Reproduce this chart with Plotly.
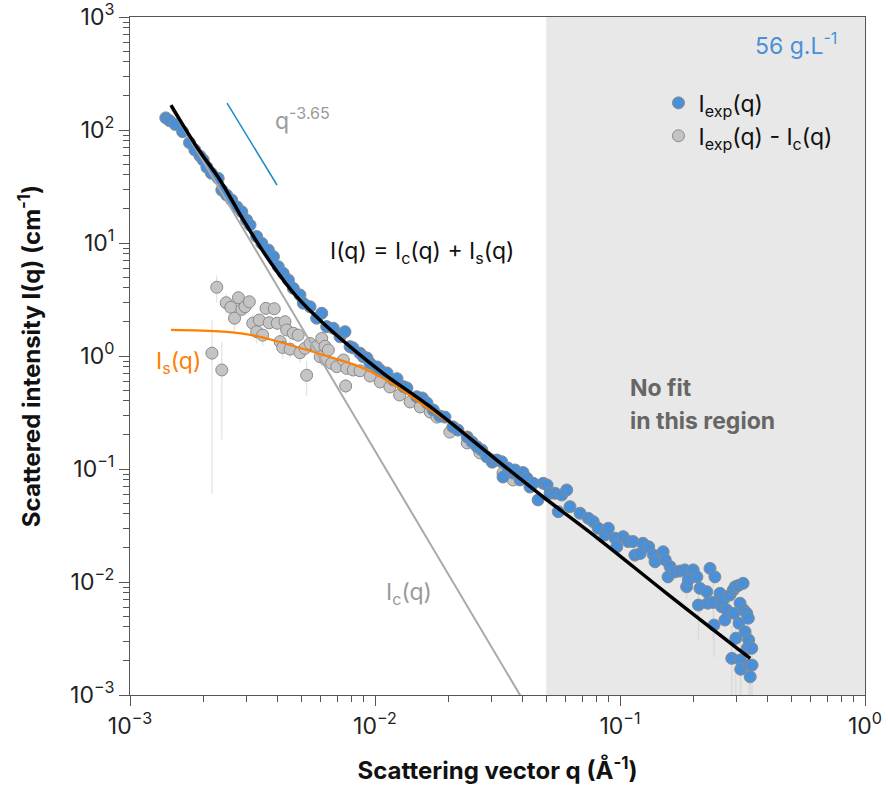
import plotly.graph_objects as go

# ---------------- data ----------------
blue_q = [0.00140, 0.00145, 0.00153, 0.00164, 0.00175, 0.00184, 0.00193, 0.00199, 0.00206, 0.00215,
          0.00229, 0.00237, 0.00248, 0.00260, 0.00273, 0.00286, 0.00299, 0.00309, 0.00329, 0.00345,
          0.00367, 0.00385, 0.00403, 0.00422, 0.00443, 0.00464, 0.00494, 0.00510, 0.00543, 0.00578,
          0.00606, 0.00635, 0.00676, 0.00720, 0.00754, 0.00791, 0.00813, 0.00869, 0.00896, 0.00927,
          0.00955, 0.0102, 0.0105, 0.0112, 0.0119, 0.0123, 0.0131, 0.0135, 0.0148, 0.0156,
          0.0163, 0.0173, 0.0184, 0.0193, 0.0208, 0.0218, 0.0238, 0.0249, 0.0261, 0.0273,
          0.0286, 0.0301, 0.0315, 0.0329, 0.0333, 0.0349, 0.0366, 0.0373, 0.0391, 0.0402,
          0.0417, 0.0429, 0.0443, 0.0463, 0.0486, 0.0504, 0.0518, 0.0543, 0.0560, 0.0578,
          0.0606, 0.0625, 0.0687, 0.0743, 0.0778, 0.0815, 0.0869, 0.0896, 0.0955, 0.0970,
          0.103, 0.108, 0.113, 0.115, 0.121, 0.124, 0.131, 0.137, 0.139, 0.150,
          0.153, 0.157, 0.160, 0.168, 0.176, 0.184, 0.187, 0.190, 0.199, 0.206,
          0.209, 0.212, 0.226, 0.228, 0.233, 0.240, 0.242, 0.244, 0.256, 0.260,
          0.264, 0.268, 0.273, 0.281, 0.286, 0.290, 0.292, 0.295, 0.297, 0.304,
          0.306, 0.309, 0.310, 0.311, 0.318, 0.320, 0.324, 0.329, 0.331, 0.334,
          0.335, 0.336, 0.340, 0.345, 0.346]
blue_I = [128, 121, 112, 96.6, 77.2, 66.5, 58.9, 54.3, 46.8, 41.4,
          37.4, 29.4, 26.6, 24.0, 20.9, 18.9, 16.0, 14.4, 11.4, 9.93,
          8.67, 7.57, 6.17, 5.40, 4.71, 3.97, 3.47, 2.93, 2.73, 2.16,
          2.39, 1.82, 1.76, 1.48, 1.64, 1.21, 1.18, 1.06, 0.986, 0.96,
          0.861, 0.80, 0.75, 0.708, 0.614, 0.63, 0.535, 0.521, 0.436, 0.425,
          0.384, 0.333, 0.294, 0.288, 0.236, 0.221, 0.192, 0.173, 0.157, 0.147,
          0.128, 0.115, 0.120, 0.116, 0.0849, 0.102, 0.0923, 0.098, 0.080, 0.093,
          0.083, 0.0693, 0.0747, 0.0532, 0.0747, 0.0722, 0.061, 0.061, 0.0419, 0.0589,
          0.0652, 0.0464, 0.0406, 0.0366, 0.0342, 0.0299, 0.0261, 0.0299, 0.0244, 0.0205,
          0.0252, 0.0228, 0.0228, 0.0173, 0.0179, 0.0220, 0.0205, 0.0173, 0.0151, 0.0185,
          0.0157, 0.0111, 0.0137, 0.0123, 0.0125, 0.0128, 0.00908, 0.0104, 0.0128, 0.0111,
          0.00625, 0.00879, 0.0082, 0.00649, 0.0132, 0.0066, 0.00416, 0.0111, 0.00794, 0.00604,
          0.00693, 0.00461, 0.00565, 0.00767, 0.00211, 0.0085, 0.00528, 0.00908, 0.00318, 0.0093,
          0.00431, 0.00649, 0.00204, 0.00169, 0.00973, 0.00565, 0.00363, 0.00528, 0.00259, 0.00478,
          0.00307, 0.00184, 0.00145, 0.00259, 0.00184]

# points of I_exp(q) whose error bars are visible
blue_err_q = [0.187, 0.209, 0.240, 0.242, 0.286, 0.297, 0.310, 0.311, 0.336, 0.340, 0.346]
blue_err_I = [0.00908, 0.00625, 0.0066, 0.00416, 0.00211, 0.00318, 0.00204, 0.00169, 0.00184, 0.00145, 0.00184]
blue_err = [0.002, 0.0032, 0.0035, 0.002, 0.002, 0.0025, 0.0019, 0.0016, 0.0017, 0.0014, 0.0017]

gray_q = [0.00216, 0.00226, 0.00237, 0.00247, 0.00258, 0.00267, 0.00277, 0.00286, 0.00295, 0.00307,
          0.00317, 0.00329, 0.00337, 0.00348, 0.00359, 0.00370, 0.00388, 0.00399, 0.00410, 0.00420,
          0.00429, 0.00436, 0.00450, 0.00464, 0.00486, 0.00494, 0.00518, 0.00526, 0.00543, 0.00578,
          0.00597, 0.00606, 0.00625, 0.00630, 0.00645, 0.00665, 0.00698, 0.00743, 0.00759, 0.00766,
          0.00815, 0.00869, 0.00955, 0.0105, 0.0115, 0.0126, 0.0139, 0.0153, 0.0168, 0.0179,
          0.0202, 0.0238, 0.0268, 0.0303, 0.0333, 0.0366]
gray_I = [1.06, 4.06, 0.752, 2.96, 2.70, 2.16, 3.28, 2.59, 2.73, 3.02,
          1.95, 1.64, 2.08, 1.53, 2.64, 1.97, 2.62, 1.95, 1.34, 1.19,
          2.01, 1.70, 1.15, 1.59, 1.53, 1.07, 1.17, 0.675, 1.29, 1.21,
          0.986, 1.43, 1.22, 0.922, 1.13, 0.861, 0.804, 0.922, 0.543, 0.778,
          0.752, 0.74, 0.665, 0.589, 0.532, 0.452, 0.392, 0.354, 0.319, 0.288,
          0.212, 0.170, 0.139, 0.120, 0.0923, 0.080]
gray_err = [1.0, 1.1, 0.57, 0.6, 0.5, 0.5, 0.5, 0.4, 0.4, 0.4,
            0.35, 0.35, 0.3, 0.3, 0.3, 0.25, 0.25, 0.25, 0.25, 0.25,
            0.2, 0.2, 0.2, 0.2, 0.2, 0.2, 0.15, 0.23, 0.15, 0.12,
            0.12, 0.12, 0.1, 0.1, 0.1, 0.1, 0.08, 0.08, 0.08, 0.08,
            0.06, 0.05, 0.04, 0.03, 0.03, 0.02, 0.02, 0.02, 0.015, 0.015,
            0.01, 0.01, 0.01, 0.01, 0.008, 0.008]

# fit curves
fit_q = [0.00147, 0.00187, 0.00233, 0.00290, 0.00373, 0.00479, 0.00615, 0.00791, 0.0108, 0.0168,
         0.0314, 0.0494, 0.0828, 0.155, 0.340]
fit_I = [166, 71.1, 36.1, 16.0, 6.83, 3.35, 1.95, 1.21, 0.703, 0.356,
         0.120, 0.0551, 0.0235, 0.00794, 0.00211]
is_q = [0.00147, 0.00240, 0.00329, 0.00450, 0.00615, 0.00896, 0.0123, 0.0168, 0.0244]
is_I = [1.70, 1.64, 1.50, 1.25, 1.02, 0.778, 0.535, 0.333, 0.196]
ic_q = [0.00147, 0.045]
ic_I = [159, 0.000597]
slope_q = [0.00249, 0.00398]
slope_I = [173, 32.6]

no_fit_from = 0.05

# axis ticks
x_tickvals = [0.001, 0.01, 0.1, 1]
x_ticktext = ["10<sup>−3</sup>", "10<sup>−2</sup>", "10<sup>−1</sup>", "10<sup>0</sup>"]
y_tickvals = [0.001, 0.01, 0.1, 1, 10, 100, 1000]
y_ticktext = ["10<sup>−3</sup>", "10<sup>−2</sup>", "10<sup>−1</sup>", "10<sup>0</sup>",
              "10<sup>1</sup>", "10<sup>2</sup>", "10<sup>3</sup>"]
minor_digits = [2, 3, 4, 5, 6, 7, 8, 9]

# ---------------- styles ----------------
FONT = "Inter, 'Liberation Sans', Arial, sans-serif"
BLUE = "#4a90d9"
GRAYPT = "#c4c4c4"
EDGE = "#8a8a8a"
MS = 12

fig = go.Figure()

fig.add_vrect(x0=no_fit_from, x1=1, fillcolor="#e8e8e8", line_width=0, layer="below")

fig.add_trace(go.Scatter(
    x=gray_q, y=gray_I, mode="markers", name="I<sub>exp</sub>(q) - I<sub>c</sub>(q)",
    marker=dict(size=MS, color=GRAYPT, line=dict(color=EDGE, width=1)),
    error_y=dict(type="data", array=gray_err, color="#e2e2e2", thickness=1.2, width=0),
    legendrank=2))

fig.add_trace(go.Scatter(
    x=blue_err_q, y=blue_err_I, mode="markers", showlegend=False, hoverinfo="skip",
    marker=dict(size=MS, color="rgba(0,0,0,0)"),
    error_y=dict(type="data", array=blue_err, color="#d8d8d8", thickness=1.2, width=0)))

fig.add_trace(go.Scatter(
    x=blue_q, y=blue_I, mode="markers", name="I<sub>exp</sub>(q)",
    marker=dict(size=MS, color=BLUE, line=dict(color=EDGE, width=1)),
    legendrank=1))

fig.add_trace(go.Scatter(x=ic_q, y=ic_I, mode="lines", showlegend=False,
                         line=dict(color="#a9a9a9", width=2)))
fig.add_trace(go.Scatter(x=is_q, y=is_I, mode="lines", showlegend=False,
                         line=dict(color="#ff8000", width=2.2, shape="spline")))
fig.add_trace(go.Scatter(x=fit_q, y=fit_I, mode="lines", showlegend=False,
                         line=dict(color="#000000", width=3.5, shape="spline")))
fig.add_trace(go.Scatter(x=slope_q, y=slope_I, mode="lines", showlegend=False,
                         line=dict(color="#1a8cc4", width=1.5)))

def ann(text, x, y, color, size=23, xanchor="left", bold=False):
    fig.add_annotation(text=f"<b>{text}</b>" if bold else text, xref="paper", yref="paper",
                       x=x, y=y, xanchor=xanchor, yanchor="middle", showarrow=False,
                       font=dict(family=FONT, size=size, color=color))

ann("q<sup>-3.65</sup>", 0.195, 0.850, "#9a9a9a")
ann("I(q) = I<sub>c</sub>(q) + I<sub>s</sub>(q)", 0.270, 0.652, "#111111")
ann("I<sub>s</sub>(q)", 0.032, 0.490, "#ff8000")
ann("I<sub>c</sub>(q)", 0.346, 0.149, "#9a9a9a")
ann("56 g.L<sup>-1</sup>", 0.965, 0.960, BLUE, xanchor="right")
ann("No fit", 0.677, 0.453, "#666666", bold=True)
ann("in this region", 0.677, 0.404, "#666666", bold=True)

def minor_vals(lo, hi):
    return [d * 10.0 ** e for e in range(lo, hi) for d in minor_digits]

axis_common = dict(
    type="log", tickmode="array",
    ticks="outside", ticklen=10, tickwidth=1, tickcolor="#555555",
    showline=True, linecolor="#555555", linewidth=1, mirror=True,
    showgrid=False, zeroline=False, automargin=False, ticklabeloverflow="allow",
    tickfont=dict(family=FONT, size=23, color="#222222"),
)

fig.update_layout(
    width=888, height=794,
    margin=dict(l=130, r=23, t=17, b=99),
    paper_bgcolor="white", plot_bgcolor="white",
    font=dict(family=FONT, color="#111111"),
    xaxis=dict(range=[-3, 0], tickvals=x_tickvals, ticktext=x_ticktext,
               minor=dict(tickmode="array", tickvals=minor_vals(-3, 0), ticks="outside", ticklen=6,
                          tickwidth=1, tickcolor="#555555", showgrid=False),
               title=dict(text="<b>Scattering vector q (Å<sup>-1</sup>)</b>", standoff=23,
                          font=dict(family=FONT, size=24, color="#111111")),
               **axis_common),
    yaxis=dict(range=[-3, 3], tickvals=y_tickvals, ticktext=y_ticktext,
               minor=dict(tickmode="array", tickvals=minor_vals(-3, 3), ticks="outside", ticklen=6,
                          tickwidth=1, tickcolor="#555555", showgrid=False),
               title=dict(text="<b>Scattered intensity I(q) (cm<sup>-1</sup>)</b>", standoff=22,
                          font=dict(family=FONT, size=24, color="#111111")),
               **axis_common),
    legend=dict(x=0.719, y=0.905, xanchor="left", yanchor="top",
                bgcolor="rgba(0,0,0,0)", tracegroupgap=0,
                font=dict(family=FONT, size=23, color="#111111")),
    showlegend=True,
)

fig.write_html("out.html", config={"displayModeBar": False},
               post_script="document.body.style.margin='0px';")
